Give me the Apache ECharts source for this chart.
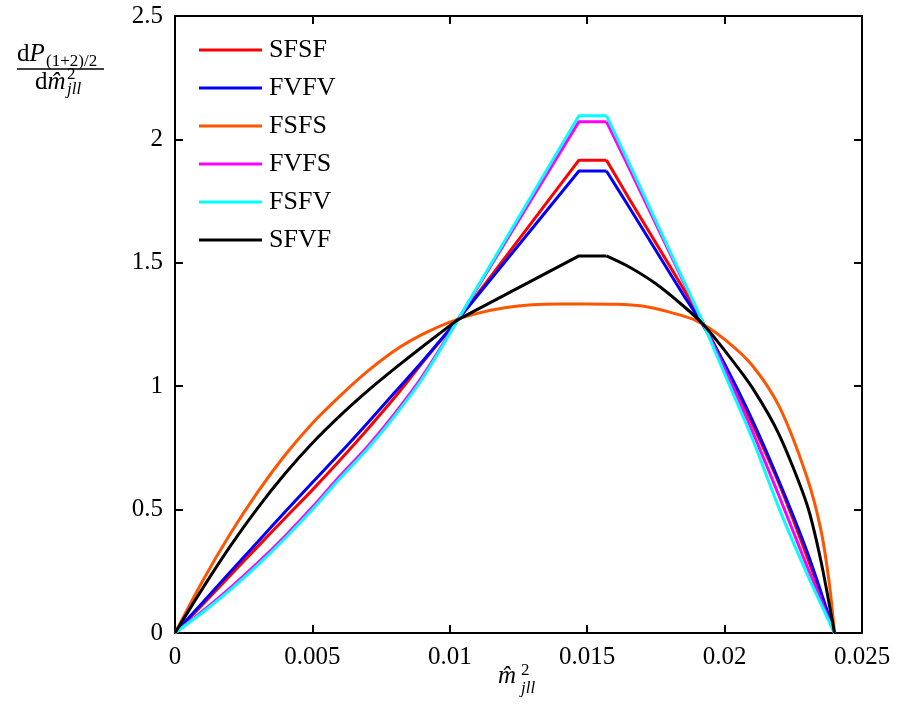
<!DOCTYPE html>
<html>
<head>
<meta charset="utf-8">
<script src="https://cdn.jsdelivr.net/npm/echarts@6/dist/echarts.min.js"></script>
<style>
  html, body { margin: 0; padding: 0; background: #fff; }
  #chart { width: 911px; height: 704px; }
</style>
</head>
<body>
<div id="chart"></div>
<script>
  // shared x grid for the kinked curves (m^2_jll)
  const xGrid = [0, 0.001, 0.002, 0.003, 0.004, 0.005, 0.006, 0.007, 0.008, 0.009, 0.0103,
    0.0147, 0.0157, 0.0165, 0.0175, 0.0185, 0.0192, 0.020, 0.021, 0.022, 0.023, 0.024];

  const sfsf = [0, 0.115, 0.232, 0.349, 0.465, 0.58, 0.70, 0.825, 0.955, 1.095, 1.27,
    1.916, 1.916, 1.765, 1.58, 1.395, 1.26, 1.085, 0.85, 0.60, 0.31, 0];
  const fvfv = [0, 0.123, 0.246, 0.368, 0.49, 0.61, 0.728, 0.85, 0.975, 1.10, 1.27,
    1.872, 1.872, 1.73, 1.55, 1.37, 1.25, 1.09, 0.865, 0.61, 0.33, 0];
  const fvfs = [0, 0.088, 0.182, 0.283, 0.392, 0.51, 0.636, 0.755, 0.89, 1.04, 1.27,
    2.072, 2.072, 1.89, 1.657, 1.424, 1.26, 1.07, 0.82, 0.55, 0.27, 0];
  const fsfv = [0, 0.083, 0.174, 0.274, 0.383, 0.50, 0.626, 0.745, 0.88, 1.03, 1.27,
    2.096, 2.096, 1.909, 1.669, 1.43, 1.26, 1.05, 0.79, 0.50, 0.24, 0];

  // SFVF bends harder near the end point
  const xSfvf = [0, 0.001, 0.002, 0.003, 0.004, 0.005, 0.006, 0.007, 0.008, 0.009, 0.0103,
    0.0147, 0.0157, 0.0165, 0.0175, 0.0185, 0.0192, 0.020, 0.021, 0.022, 0.023, 0.0235, 0.024];
  const sfvf = [0, 0.18, 0.35, 0.505, 0.645, 0.77, 0.88, 0.98, 1.072, 1.16, 1.27,
    1.528, 1.528, 1.485, 1.415, 1.325, 1.253, 1.145, 0.995, 0.80, 0.52, 0.295, 0];

  // FSFS is smooth over the top
  const xFsfs = [0, 0.001, 0.002, 0.003, 0.004, 0.005, 0.006, 0.007, 0.008, 0.009, 0.010,
    0.011, 0.012, 0.013, 0.014, 0.015, 0.016, 0.017, 0.018, 0.019, 0.020, 0.021, 0.022,
    0.023, 0.0235, 0.0238, 0.024];
  const fsfs = [0, 0.21, 0.40, 0.57, 0.72, 0.85, 0.96, 1.06, 1.145, 1.21, 1.26,
    1.295, 1.318, 1.330, 1.333, 1.333, 1.332, 1.325, 1.30, 1.264, 1.19, 1.085, 0.915,
    0.63, 0.42, 0.21, 0];

  const xTicks = [0, 0.025, 0.005];   // min, max, step
  const yTicks = [0, 2.5, 0.5];

  const serif = 'Liberation Serif';

  function pairs(xs, ys) {
    return xs.map((x, i) => [x, ys[i]]);
  }

  // kinked curves: smooth rise, straight peak, smooth fall (split at index 10 and 12)
  const seriesDefs = [
    { name: 'SFSF', color: '#ff0000', x: xGrid, y: sfsf, cuts: [10, 12] },
    { name: 'FVFV', color: '#0000ff', x: xGrid, y: fvfv, cuts: [10, 12] },
    { name: 'FSFS', color: '#ff5500', x: xFsfs, y: fsfs, cuts: null },
    { name: 'FVFS', color: '#ff00ff', x: xGrid, y: fvfs, cuts: [10, 12] },
    { name: 'FSFV', color: '#00ffff', x: xGrid, y: fsfv, cuts: [10, 12] },
    { name: 'SFVF', color: '#000000', x: xSfvf, y: sfvf, cuts: [10, 12] }
  ];

  function lineSeries(s, data, smooth) {
    return {
      name: s.name, type: 'line', xAxisIndex: 0, yAxisIndex: 0,
      showSymbol: false, symbol: 'none', smooth: smooth,
      lineStyle: { color: s.color, width: 3 },
      itemStyle: { color: s.color },
      data: data
    };
  }

  const series = [];
  seriesDefs.forEach(s => {
    const pts = pairs(s.x, s.y);
    if (!s.cuts) {
      series.push(lineSeries(s, pts, 0.3));
      return;
    }
    const [a, b] = s.cuts;
    series.push(lineSeries(s, pts.slice(0, a + 1), 0.3));
    series.push(lineSeries(s, pts.slice(a, b + 1), false));
    series.push(lineSeries(s, pts.slice(b), 0.25));
  });

  const axisLine = { show: true, onZero: false, lineStyle: { color: '#000', width: 2 } };
  const axisTick = { show: true, inside: true, length: 8, lineStyle: { color: '#000', width: 2 } };

  function xAxisDef(pos, labels) {
    return {
      type: 'value', position: pos,
      min: xTicks[0], max: xTicks[1], interval: xTicks[2],
      axisLine, axisTick,
      axisLabel: { show: labels, color: '#000', fontFamily: serif, fontSize: 25, margin: 12 },
      splitLine: { show: false }
    };
  }
  function yAxisDef(pos, labels) {
    return {
      type: 'value', position: pos,
      min: yTicks[0], max: yTicks[1], interval: yTicks[2],
      axisLine, axisTick,
      axisLabel: { show: labels, color: '#000', fontFamily: serif, fontSize: 25, margin: 12 },
      splitLine: { show: false }
    };
  }

  const small = { fontFamily: serif, fontSize: 17, fill: '#000' };
  const big = { fontFamily: serif, fontSize: 25, fill: '#000' };

  const chart = echarts.init(document.getElementById('chart'), null, { renderer: 'canvas' });
  chart.setOption({
    animation: false,
    backgroundColor: '#fff',
    grid: { left: 175, right: 49, top: 16, bottom: 71, containLabel: false, outerBoundsMode: 'none' },
    xAxis: [xAxisDef('bottom', true), xAxisDef('top', false)],
    yAxis: [yAxisDef('left', true), yAxisDef('right', false)],
    legend: {
      orient: 'vertical', left: 199, top: 37, padding: 0,
      icon: 'rect', itemWidth: 63, itemHeight: 3, itemGap: 12,
      textStyle: { color: '#000', fontFamily: serif, fontSize: 26, lineHeight: 25, padding: [0, 0, 0, 2] },
      data: seriesDefs.map(s => s.name)
    },
    series: series,
    graphic: [
      // y axis name: dP_(1+2)/2 / d m^2_jll
      { type: 'text', left: 17, top: 42, style: Object.assign({
          text: '{a|d}{b|P}', rich: { a: { fontFamily: serif, fontSize: 25 }, b: { fontFamily: serif, fontSize: 25, fontStyle: 'italic' } }
        }, big) },
      { type: 'text', left: 46, top: 53, style: Object.assign({ text: '(1+2)/2' }, small) },
      { type: 'line', shape: { x1: 17, y1: 69, x2: 104, y2: 69 }, style: { stroke: '#000', lineWidth: 1.5 } },
      { type: 'text', left: 35, top: 70, style: Object.assign({
          text: '{a|d}{b|m\u0302}', rich: { a: { fontFamily: serif, fontSize: 25 }, b: { fontFamily: serif, fontSize: 25, fontStyle: 'italic' } }
        }, big) },
      { type: 'text', left: 67, top: 66, style: Object.assign({ text: '2' }, small) },
      { type: 'text', left: 67, top: 81, style: Object.assign({ text: 'jll', fontStyle: 'italic' }, small) },
      // x axis name
      { type: 'text', left: 498, top: 664, style: Object.assign({ text: 'm\u0302', fontStyle: 'italic' }, big) },
      { type: 'text', left: 521, top: 662, style: Object.assign({ text: '2' }, small) },
      { type: 'text', left: 521, top: 680, style: Object.assign({ text: 'jll', fontStyle: 'italic' }, small) }
    ]
  });
</script>
</body>
</html>
